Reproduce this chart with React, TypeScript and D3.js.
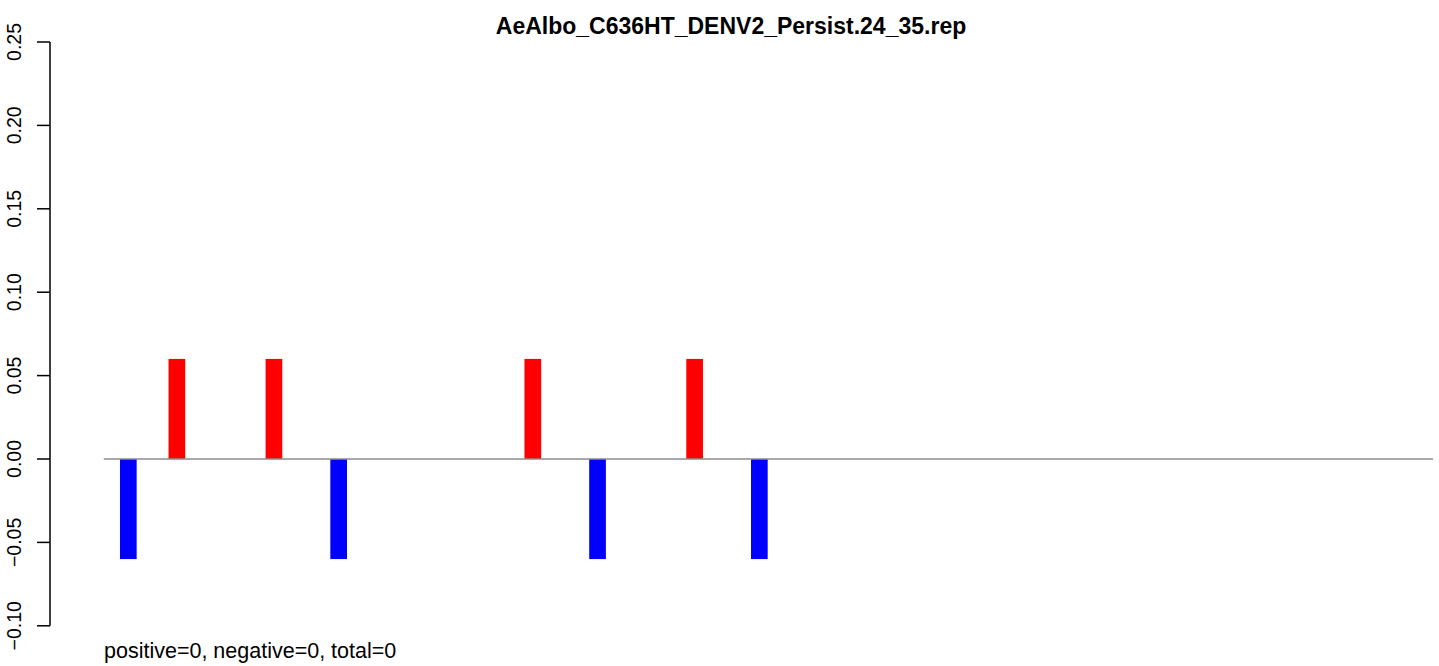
import React from "react";
import * as d3 from "d3";

const TITLE = "AeAlbo_C636HT_DENV2_Persist.24_35.rep";
const FOOTNOTE = "positive=0, negative=0, total=0";
// bar slot positions (index along x) and their values
const positions = [1, 4, 10, 14, 26, 30, 36, 40];
const values = [-0.06, 0.06, 0.06, -0.06, 0.06, -0.06, 0.06, -0.06];
const yTicks = [-0.1, -0.05, 0.0, 0.05, 0.1, 0.15, 0.2, 0.25];
const xDomain = [0, 82.15];
const yDomain = [-0.1, 0.25];

export default function App() {
  const W = 1439, H = 666;
  const x = d3.scaleLinear().domain(xDomain).range([103.8, 1433]);
  const y = d3.scaleLinear().domain(yDomain).range([625.8, 42]);
  const slot = x(1) - x(0);
  const barW = slot + 0.5;
  const font = "'Liberation Sans', Arial, Helvetica, sans-serif";
  return (
    <svg width={W} height={H} style={{ position: "absolute", left: 0, top: 0, background: "#fff" }}>
      <text x={731} y={34} textAnchor="middle" fontFamily={font} fontWeight="bold" fontSize={23}>
        {TITLE}
      </text>
      {/* y axis */}
      <line x1={50} x2={50} y1={y(yDomain[1])} y2={y(yDomain[0])} stroke="#000" strokeWidth={1.5} />
      {yTicks.map((t) => (
        <g key={t}>
          <line x1={37} x2={50} y1={y(t)} y2={y(t)} stroke="#000" strokeWidth={1.5} />
          <text
            transform={`translate(21,${y(t)}) rotate(-90)`}
            textAnchor="middle"
            fontFamily={font}
            fontSize={19.5}
          >
            {d3.format(".2f")(t).replace("-", "\u2212")}
          </text>
        </g>
      ))}
      {/* bars */}
      {positions.map((p, i) => {
        const v = values[i];
        return (
          <rect
            key={p}
            x={x(p)}
            width={barW}
            y={Math.min(y(v), y(0))}
            height={Math.abs(y(v) - y(0))}
            fill={v >= 0 ? "#FF0000" : "#0000FF"}
          />
        );
      })}
      {/* zero line */}
      <line x1={x(xDomain[0])} x2={x(xDomain[1])} y1={y(0)} y2={y(0)} stroke="#8c8c8c" strokeWidth={1.3} />
      <text x={104} y={658} fontFamily={font} fontSize={21.5}>
        {FOOTNOTE}
      </text>
    </svg>
  );
}
